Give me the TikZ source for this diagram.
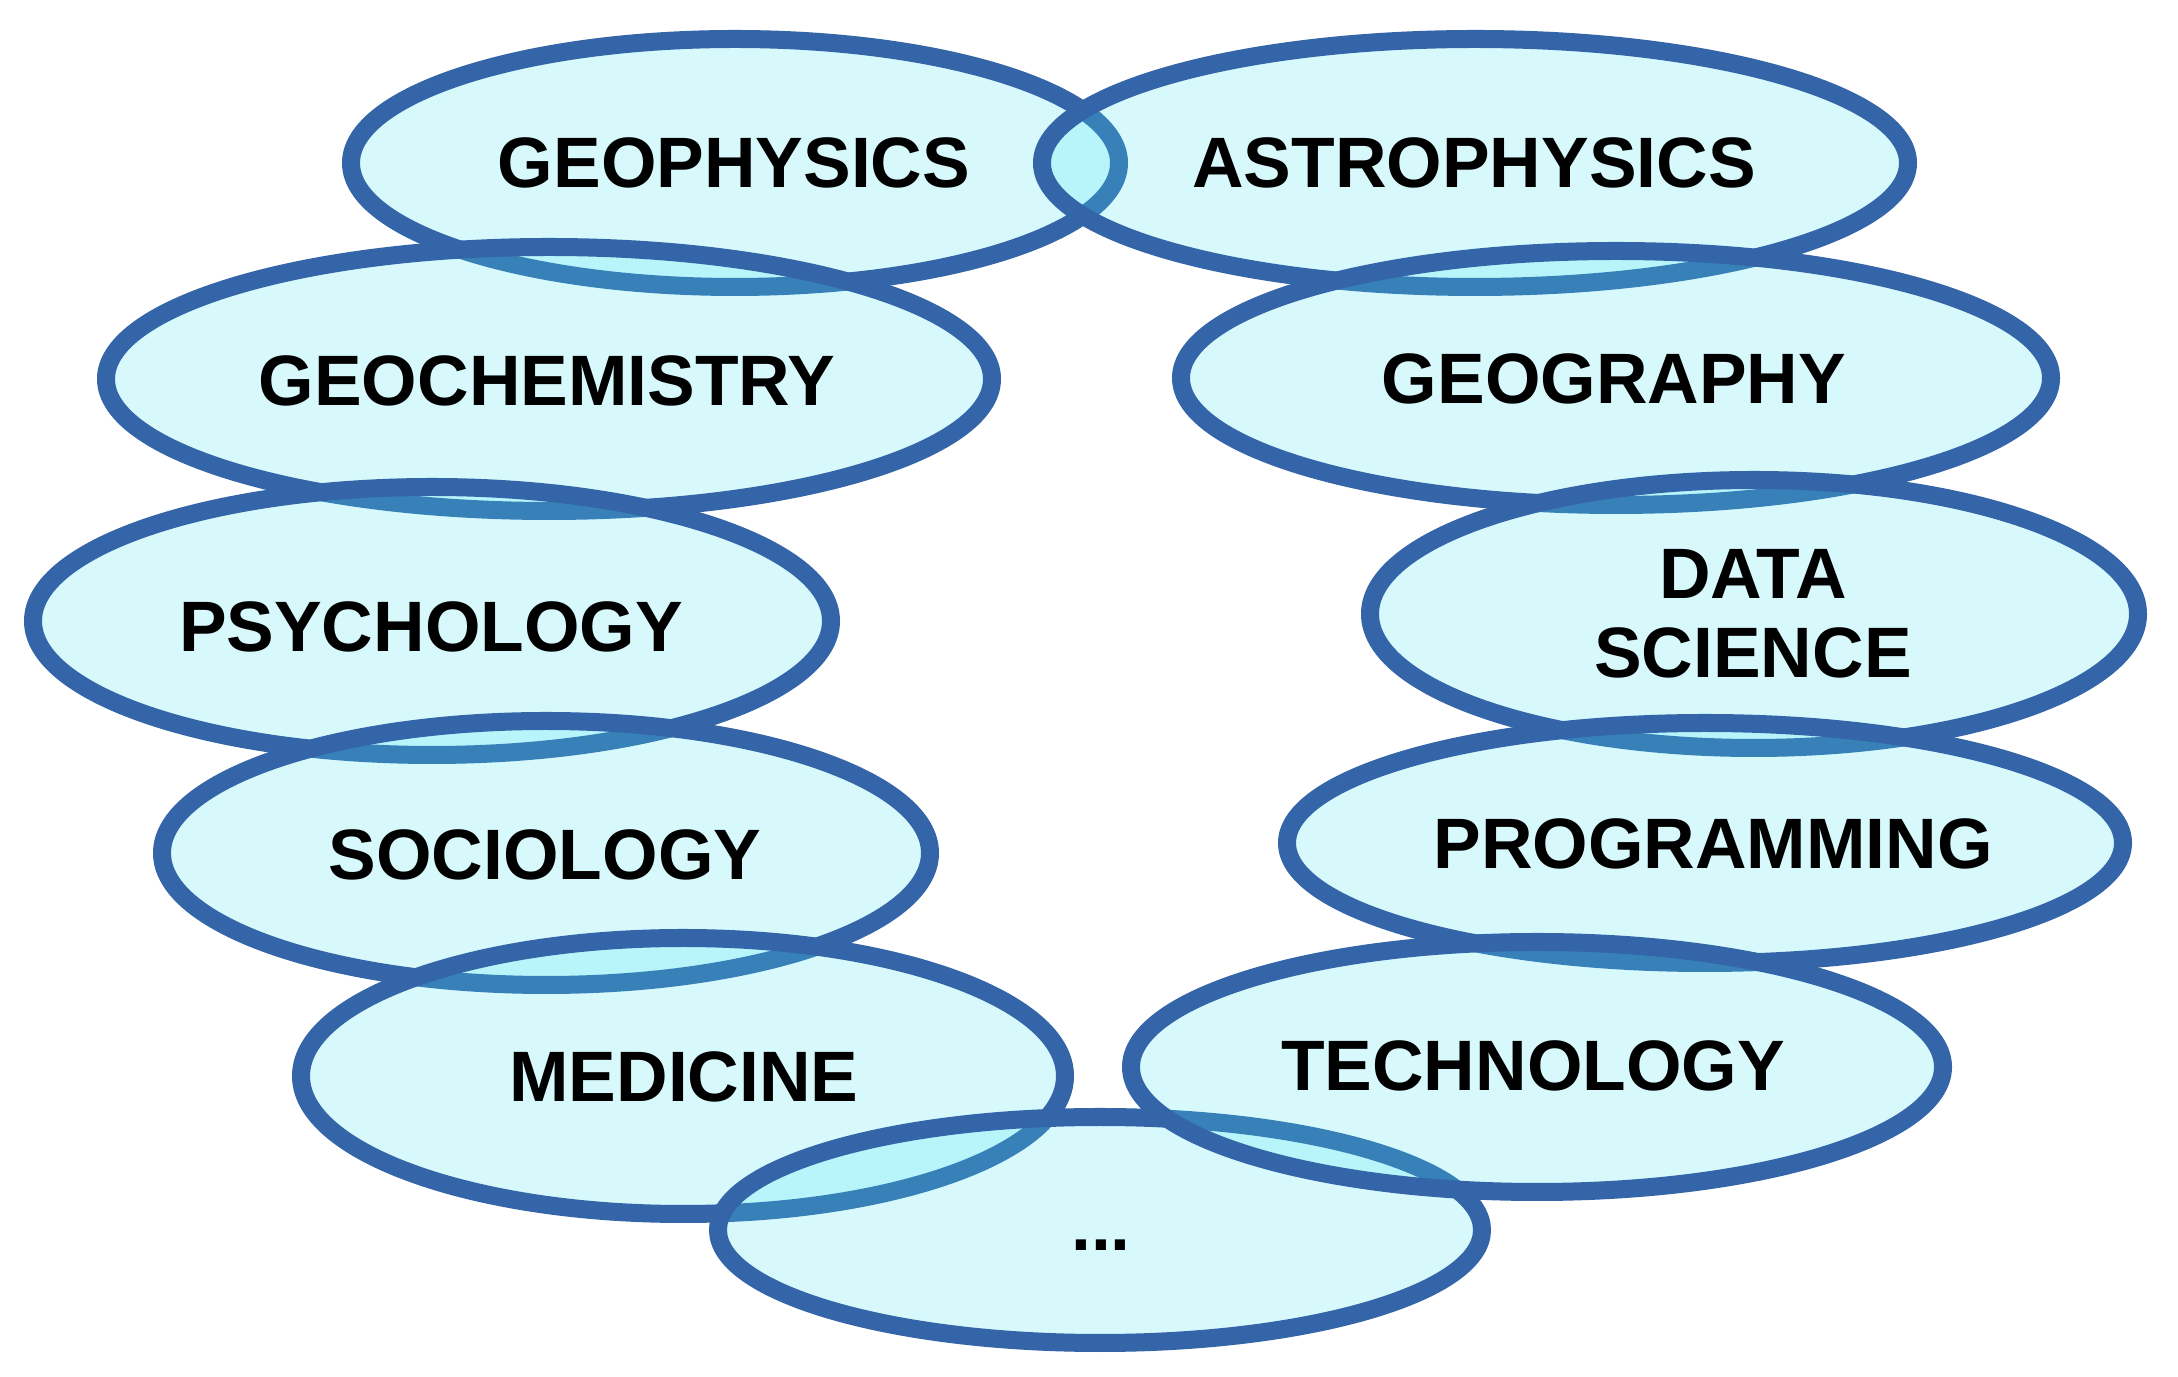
\documentclass[tikz,border=0pt]{standalone}
\usepackage{fontspec}
\setmainfont{Liberation Sans}
\usetikzlibrary{shapes.geometric}
\definecolor{ringblue}{RGB}{52,101,168}
\definecolor{ringfill}{RGB}{73,232,245}
\begin{document}
\begin{tikzpicture}[x=0.01cm,y=-0.01cm,
  ring/.style={draw=ringblue,line width=0.18cm,fill=ringfill,fill opacity=0.22,draw opacity=1},
  lbl/.style={font=\bfseries\fontsize{20.3}{22.4}\selectfont,text=black,align=center,inner sep=0pt}]
\useasboundingbox (0,0) rectangle (2178,1377);
\fill[white] (0,0) rectangle (2178,1377);
% ellipses, in drawing order
\path[ring] (735,163) ellipse [x radius=384, y radius=-124];
\path[ring] (1475,163) ellipse [x radius=433, y radius=-124];
\path[ring] (549,379) ellipse [x radius=443, y radius=-132];
\path[ring] (1616,378) ellipse [x radius=435, y radius=-127];
\path[ring] (432,621) ellipse [x radius=399, y radius=-134];
\path[ring] (1754,614) ellipse [x radius=384, y radius=-134];
\path[ring] (546,853) ellipse [x radius=384, y radius=-132];
\path[ring] (1705,843) ellipse [x radius=418, y radius=-120];
\path[ring] (683,1076) ellipse [x radius=382, y radius=-138];
\path[ring] (1100,1230) ellipse [x radius=382, y radius=-113];
\path[ring] (1537,1067) ellipse [x radius=406, y radius=-125];
% labels
\node[lbl] (geophys) at (734,163) {GEOPHYSICS};
\node[lbl] (astro) at (1474,163) {ASTROPHYSICS};
\node[lbl] (geochem) at (547,381) {GEOCHEMISTRY};
\node[lbl] (geogr) at (1614,379) {GEOGRAPHY};
\node[lbl] (psych) at (431,627) {PSYCHOLOGY};
\node[lbl] (datasci) at (1753,614) {DATA\\SCIENCE};
\node[lbl] (socio) at (545,855) {SOCIOLOGY};
\node[lbl] (prog) at (1713,844) {PROGRAMMING};
\node[lbl] (medic) at (684,1077) {MEDICINE};
\node[lbl] (dots) at (1101,1245) {...};
\node[lbl] (tech) at (1533,1066) {TECHNOLOGY};
\end{tikzpicture}
\end{document}
